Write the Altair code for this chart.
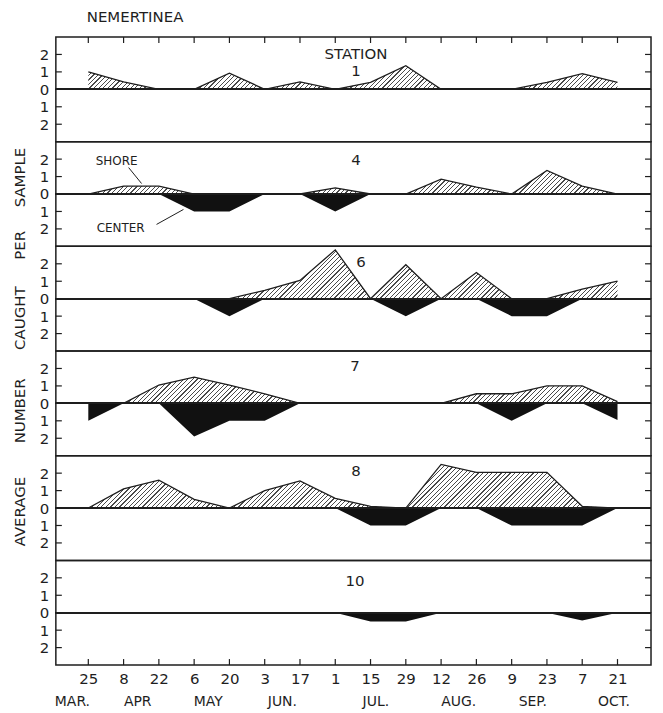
import json
import altair as alt
import pandas as pd

# ---------------- data ----------------
dates = ["25", "8", "22", "6", "20", "3", "17", "1", "15", "29", "12", "26", "9", "23", "7", "21"]
months = ["MAR.", "APR", "MAY", "JUN.", "JUL.", "AUG.", "SEP.", "OCT."]
month_pos = [-0.45, 1.4, 3.4, 5.5, 8.15, 10.5, 12.6, 14.9]
stations = ["1", "4", "6", "7", "8", "10"]
ytick_values = [-2, -1, 0, 1, 2]
ytitle_words = ["SAMPLE", "PER", "CAUGHT", "NUMBER", "AVERAGE"]

shore_1 = [1.0, 0.43, 0, 0, 0.93, 0, 0.43, 0, 0.4, 1.35, 0, 0, 0, 0.4, 0.9, 0.4]
shore_4 = [0, 0.45, 0.45, 0, 0, 0, 0, 0.35, 0, 0, 0.85, 0.4, 0, 1.35, 0.45, 0]
shore_6 = [0, 0, 0, 0, 0, 0.48, 1.05, 2.8, 0, 1.95, 0, 1.5, 0, 0, 0.55, 1.0]
shore_7 = [0, 0, 1.05, 1.5, 1.05, 0.55, 0, 0, 0, 0, 0, 0.55, 0.55, 1.0, 1.0, 0.1]
shore_8 = [0, 1.1, 1.6, 0.5, 0, 1.0, 1.55, 0.55, 0.1, 0, 2.5, 2.05, 2.05, 2.05, 0.1, 0]
shore_10 = [0, 0, 0, 0, 0, 0, 0, 0, 0, 0, 0, 0, 0, 0, 0, 0]

center_1 = [0, 0, 0, 0, 0, 0, 0, 0, 0, 0, 0, 0, 0, 0, 0, 0]
center_4 = [0, 0, 0, -1, -1, 0, 0, -1, 0, 0, 0, 0, 0, 0, 0, 0]
center_6 = [0, 0, 0, 0, -1, 0, 0, 0, 0, -1, 0, 0, -1, -1, 0, 0]
center_7 = [-1, 0, 0, -1.9, -1, -1, 0, 0, 0, 0, 0, 0, -1, 0, 0, -0.95]
center_8 = [0, 0, 0, 0, 0, 0, 0, 0, -1, -1, 0, 0, -1, -1, -1, 0]
center_10 = [0, 0, 0, 0, 0, 0, 0, 0, -0.5, -0.5, 0, 0, 0, 0, -0.45, 0]

shore = {"1": shore_1, "4": shore_4, "6": shore_6, "7": shore_7, "8": shore_8, "10": shore_10}
center = {"1": center_1, "4": center_4, "6": center_6, "7": center_7, "8": center_8, "10": center_10}

# ---------------- layout / style ----------------
W = 597
H = 105
X_DOMAIN = [-0.92, 15.95]
Y_DOMAIN = [-3, 3]
FONT = "DejaVu Sans"
INK = "#1e1e1e"
PX_PER_IDX = W / (X_DOMAIN[1] - X_DOMAIN[0])
PX_PER_UNIT = H / (Y_DOMAIN[1] - Y_DOMAIN[0])
label_x = {"1": 301, "4": 301, "6": 306, "7": 300, "8": 301, "10": 300}
label_y = {"1": 34, "4": 18, "6": 16, "7": 15, "8": 15, "10": 21}
word_y = [141, 209, 282, 375, 476]  # centres, relative to top panel


def hatch_fill(values):
    """Diagonal hatching made of hard-stop gradient stripes."""
    top = max(max(values), 0.05)
    width_px = (len(values) - 1) * PX_PER_IDX
    height_px = top * PX_PER_UNIT
    k = height_px / width_px
    a = 1 + k
    b = a * k
    span = a * (1 + k * k) * width_px
    n = max(1, int(round(span / 4.6)))
    stops = []
    for i in range(n):
        o0 = i / n
        o1 = (i + 0.26) / n
        o2 = (i + 1) / n
        stops += [
            alt.GradientStop(offset=o0, color="#4a4a4a"),
            alt.GradientStop(offset=o1, color="#4a4a4a"),
            alt.GradientStop(offset=o1, color="#ffffff"),
            alt.GradientStop(offset=o2, color="#ffffff"),
        ]
    return alt.LinearGradient(gradient="linear", stops=stops, x1=0, y1=0, x2=a, y2=b)


def panel(i, st):
    last = i == len(stations) - 1
    first = i == 0
    df = pd.DataFrame({"idx": list(range(len(dates))), "shore": shore[st], "center": center[st]})
    xscale = alt.Scale(domain=X_DOMAIN, nice=False, zero=False)
    yscale = alt.Scale(domain=Y_DOMAIN, nice=False, zero=False)
    if last:
        xaxis = alt.Axis(values=list(range(len(dates))),
                         labelExpr=json.dumps(dates) + "[datum.value]",
                         ticks=False, domain=False, grid=False, title=None,
                         labelFontSize=15, labelPadding=7, labelFont=FONT, labelColor=INK,
                         labelFlush=False, labelOverlap=False)
    else:
        xaxis = None
    yaxis = alt.Axis(values=ytick_values, labelExpr="'' + abs(datum.value)", ticks=False,
                     domain=False, grid=False, title=None, labelFontSize=15, labelPadding=7,
                     labelFont=FONT, labelColor=INK, labelOverlap=False, labelFlush=False,
                     labelBound=False)

    base = alt.Chart(df)
    layers = []
    layers.append(base.mark_area(fill=hatch_fill(shore[st]), opacity=1,
                                 line={"color": INK, "strokeWidth": 1.3}).encode(
        x=alt.X("idx:Q", scale=xscale, axis=xaxis),
        y=alt.Y("shore:Q", scale=yscale, axis=yaxis)))
    layers.append(base.mark_area(color="#111111", opacity=1).encode(
        x=alt.X("idx:Q", scale=xscale, axis=xaxis),
        y=alt.Y("center:Q", scale=yscale, axis=yaxis)))
    layers.append(base.mark_rule(color=INK, strokeWidth=1.4).encode(
        y=alt.YDatum(0, scale=yscale, axis=yaxis)))

    tdf = pd.DataFrame({"t": ytick_values})
    layers.append(alt.Chart(tdf).mark_rule(color=INK, strokeWidth=1.2).encode(
        y=alt.Y("t:Q", scale=yscale, axis=yaxis), x=alt.value(0), x2=alt.value(6)))
    layers.append(alt.Chart(tdf).mark_rule(color=INK, strokeWidth=1.2).encode(
        y=alt.Y("t:Q", scale=yscale, axis=yaxis), x=alt.value(W - 6), x2=alt.value(W)))
    if first:
        layers.append(base.mark_rule(color=INK, strokeWidth=1.2).encode(
            x=alt.X("idx:Q", scale=xscale, axis=xaxis), y=alt.value(0), y2=alt.value(6)))
    if last:
        layers.append(base.mark_rule(color=INK, strokeWidth=1.2).encode(
            x=alt.X("idx:Q", scale=xscale, axis=xaxis), y=alt.value(H - 6), y2=alt.value(H)))
        mdf = pd.DataFrame({"m": months, "pos": month_pos})
        layers.append(alt.Chart(mdf).mark_text(font=FONT, fontSize=14, color=INK).encode(
            x=alt.X("pos:Q", scale=xscale, axis=xaxis), y=alt.value(H + 37), text="m:N"))

    # station label
    layers.append(alt.Chart(pd.DataFrame({"s": [st]})).mark_text(
        font=FONT, fontSize=15, color=INK).encode(
        text="s:N", x=alt.value(label_x[st]), y=alt.value(label_y[st])))

    if first:
        layers.append(alt.Chart(pd.DataFrame({"s": ["STATION"]})).mark_text(
            font=FONT, fontSize=15, color=INK).encode(
            text="s:N", x=alt.value(label_x[st]), y=alt.value(17)))
        layers.append(alt.Chart(pd.DataFrame({"s": ["NEMERTINEA"]})).mark_text(
            font=FONT, fontSize=15, color=INK, align="left").encode(
            text="s:N", x=alt.value(31), y=alt.value(-20)))
        for wtxt, wy in zip(ytitle_words, word_y):
            layers.append(alt.Chart(pd.DataFrame({"s": [wtxt]})).mark_text(
                font=FONT, fontSize=15, color=INK, angle=270).encode(
                text="s:N", x=alt.value(-36), y=alt.value(wy)))

    if st == "4":
        layers.append(alt.Chart(pd.DataFrame({"s": ["SHORE"]})).mark_text(
            font=FONT, fontSize=12, color=INK).encode(
            text="s:N", x=alt.value(61), y=alt.value(19)))
        layers.append(alt.Chart(pd.DataFrame({"s": ["CENTER"]})).mark_text(
            font=FONT, fontSize=12, color=INK).encode(
            text="s:N", x=alt.value(65), y=alt.value(87)))
        layers.append(alt.Chart(pd.DataFrame({"s": ["a"]})).mark_rule(color=INK, strokeWidth=1).encode(
            x=alt.value(73), x2=alt.value(86), y=alt.value(26), y2=alt.value(42)))
        layers.append(alt.Chart(pd.DataFrame({"s": ["b"]})).mark_rule(color=INK, strokeWidth=1).encode(
            x=alt.value(101), x2=alt.value(128), y=alt.value(83), y2=alt.value(68)))

    return alt.layer(*layers).properties(width=W, height=H)


panels = [panel(i, st) for i, st in enumerate(stations)]

chart = alt.vconcat(*panels, spacing=0, bounds="flush").properties(
    padding={"left": 4, "right": 2, "top": 0, "bottom": 0},
    background="#ffffff",
).configure_view(stroke=INK, strokeWidth=1.5).configure_axis(labelOverlap=False)

chart.save("out.html", embed_options={"renderer": "svg", "actions": False})
